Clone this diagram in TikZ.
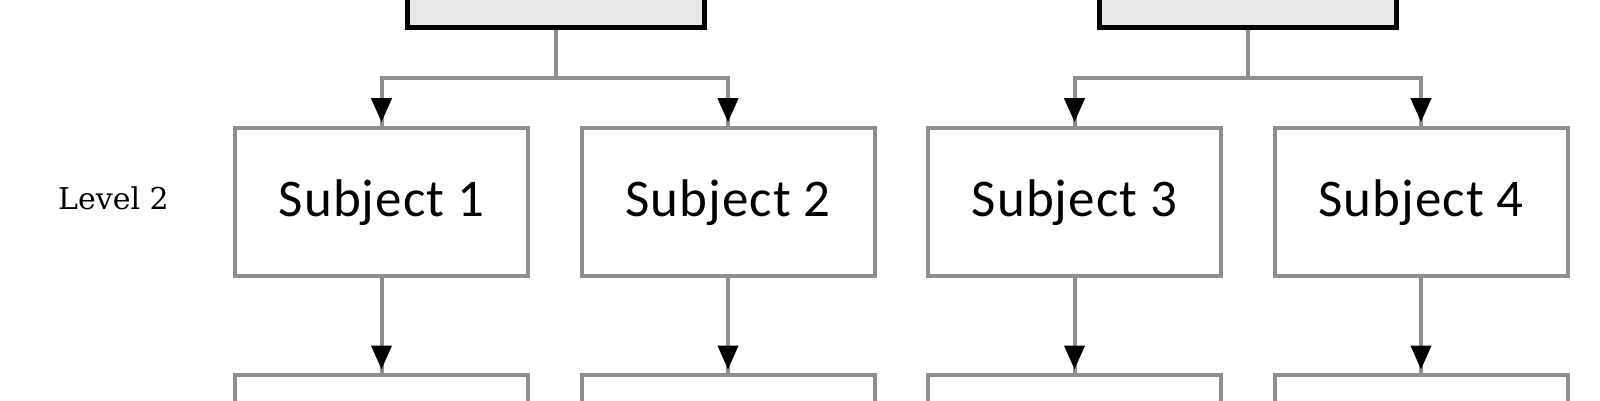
\documentclass[tikz,border=0pt]{standalone}
\usepackage{fontspec}
\newfontfamily\subjfont[LetterSpace=2]{Carlito}
\newfontfamily\lvlfont{DejaVu Serif}
\usetikzlibrary{arrows.meta}
\definecolor{linegray}{RGB}{142,142,142}
\definecolor{topfill}{RGB}{232,232,232}
\begin{document}
\begin{tikzpicture}[x=1pt,y=-1pt,
  topbox/.style={draw=black, line width=5pt, fill=topfill, minimum width=297pt, minimum height=100pt, inner sep=0pt},
  subjbox/.style={draw=linegray, line width=4pt, fill=white, minimum width=293pt, minimum height=148.3pt, inner sep=0pt, text height=28.3pt, text depth=0pt, font=\subjfont\fontsize{53}{60}\selectfont},
  lowbox/.style={draw=linegray, line width=4pt, fill=white, minimum width=293pt, minimum height=140pt, inner sep=0pt},
  conn/.style={draw=linegray, line width=4pt},
  tipd/.style={conn, -{Triangle[length=24pt,width=20pt,black,sep=3.5pt]}},
  lvl/.style={font=\lvlfont\fontsize{30}{36}\selectfont, anchor=base, inner sep=0pt}]
\clip (0,0) rectangle (1600,400);
\fill[white] (0,0) rectangle (1600,400);
% top (level 1) boxes, cut by the frame
\node[topbox] (t1) at (555.5,-22.5) {};
\node[topbox] (t2) at (1248,-22.5) {};
% level 2 boxes
\node[subjbox] (s1) at (381.5,201.85) {Subject 1};
\node[subjbox] (s2) at (728,201.85) {Subject 2};
\node[subjbox] (s3) at (1074.5,201.85) {Subject 3};
\node[subjbox] (s4) at (1421,201.85) {Subject 4};
% level 3 boxes, cut by the frame
\node[lowbox] (l1) at (381.5,445) {};
\node[lowbox] (l2) at (728,445) {};
\node[lowbox] (l3) at (1074.5,445) {};
\node[lowbox] (l4) at (1421,445) {};
% level label
\node[lvl] (lv) at (113.5,209) {Level 2};
% junctions
\coordinate (j1) at (555.5,78);
\coordinate (j2) at (1248,78);
% connectors level 1 -> level 2
\draw[conn] (t1.south) -- (j1);
\draw[conn] (t2.south) -- (j2);
\foreach \a/\j in {s1/j1,s2/j1,s3/j2,s4/j2}{
  \draw[conn] (\j) -| (\a.north);
  \draw[tipd] (\j) -| (\a.north);
}
% connectors level 2 -> level 3
\foreach \a/\b in {s1/l1,s2/l2,s3/l3,s4/l4}{
  \draw[conn] (\a.south) -- (\b.north);
  \draw[tipd] (\a.south) -- (\b.north);
}
\end{tikzpicture}
\end{document}
